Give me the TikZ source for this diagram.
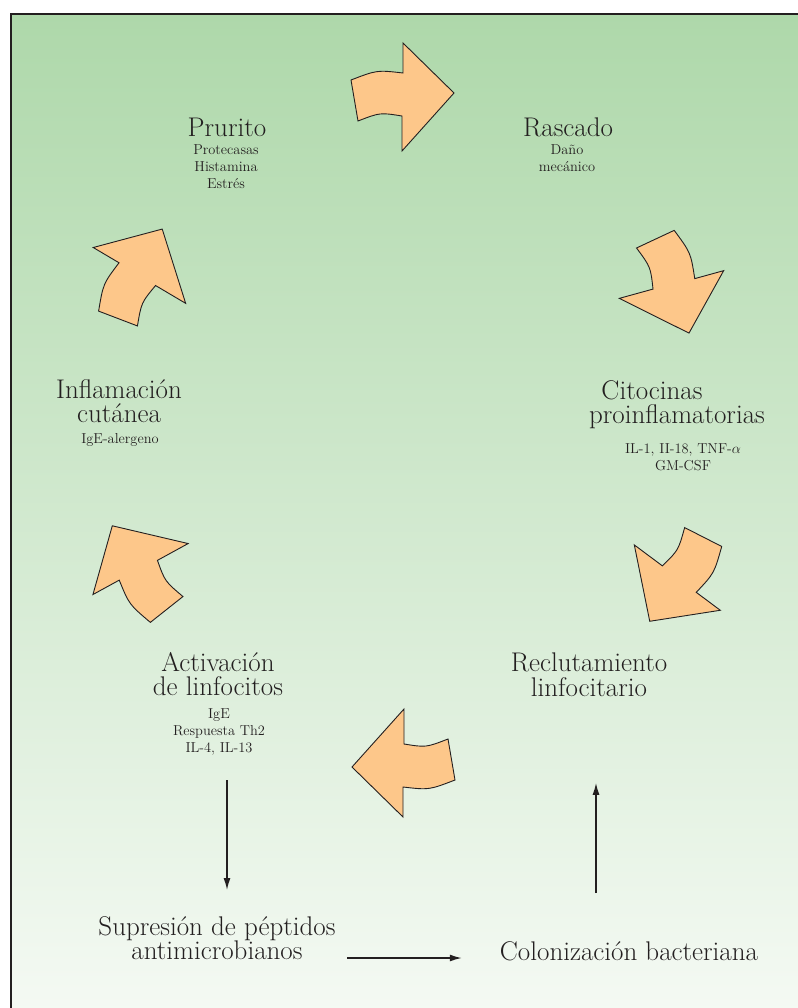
\documentclass[tikz,border=0pt]{standalone}
\usepackage{amsmath}
\usepackage{tikz}
\usetikzlibrary{calc,arrows.meta}
\definecolor{bggreen}{RGB}{174,216,170}
\definecolor{bgwhite}{RGB}{245,250,244}
\definecolor{peach}{RGB}{253,199,138}
\definecolor{ink}{RGB}{35,31,32}
\begin{document}
\begin{tikzpicture}[x=1pt,y=-1pt,
  bigtxt/.style={font=\fontsize{27}{24.5}\selectfont,text=ink,align=center,inner sep=0pt,anchor=north},
  smalltxt/.style={font=\fontsize{14.4}{17.2}\selectfont,text=ink,align=center,inner sep=0pt,anchor=north},
  flow/.style={-{Latex[length=12pt,width=7pt]},line width=1.4pt,draw=ink},
  cyclearrow/.pic={\draw[fill=peach,draw=ink,line width=0.9pt,line join=miter](-52,-17).. controls (-26,-27) .. (0,-24)--(0,-54)--(51,-4)--(-1,54)--(-1,19).. controls (-23,15.5) .. (-45,24)--cycle;}]
\useasboundingbox (0,0) rectangle (797,1008);
\shade[top color=bggreen,bottom color=bgwhite] (11,14) rectangle (810,1020);
\draw[ink,line width=2pt] (11,1020)--(11,14)--(810,14);
\pic at (403,97) {cyclearrow};
\pic[rotate=-74.6] at (671.6,285) {cyclearrow};
\pic[rotate=-126.7] at (677,578) {cyclearrow};
\pic[rotate=-180] at (403,763) {cyclearrow};
\pic[rotate=-241.3] at (140.3,568.6) {cyclearrow};
\pic[rotate=-300.6] at (139.7,275) {cyclearrow};
\node[bigtxt](prur)at(227,118){Prurito};
\node[smalltxt](prursub)at(226,144){Protecasas\\Histamina\\Estrés};
\node[bigtxt](rasc)at(568,118){Rascado};
\node[smalltxt](rascsub)at(567,144){Daño\\mecánico};
\node[bigtxt](cito)at(677,380){Citocinas\hspace*{50pt}\\proinflamatorias};
\node[smalltxt](citosub)at(683,443){IL-1, II-18, TNF-$\alpha$\\GM-CSF};
\node[bigtxt](infl)at(119,379){Inflamación\\cutánea};
\node[smalltxt](inflsub)at(120,433){IgE-alergeno};
\node[bigtxt](recl)at(589,653){Reclutamiento\\linfocitario};
\node[bigtxt](activ)at(218,652){Activación\\de linfocitos};
\node[smalltxt](activsub)at(219,708){IgE\\Respuesta Th2\\IL-4, IL-13};
\node[bigtxt](supr)at(217,916){Supresión de péptidos\\antimicrobianos};
\node[bigtxt](colon)at(629,941){Colonización bacteriana};
\coordinate (downtop) at (227,780);
\coordinate (rightstart) at (347,958);
\coordinate (upbottom) at (596,893);
\draw[flow,shorten >=26pt](downtop)--(downtop |- supr.north);
\draw[flow,shorten >=38pt](rightstart)--(rightstart -| colon.west);
\draw[flow,shorten >=86pt](upbottom)--(upbottom |- recl.south);
\end{tikzpicture}
\end{document}
